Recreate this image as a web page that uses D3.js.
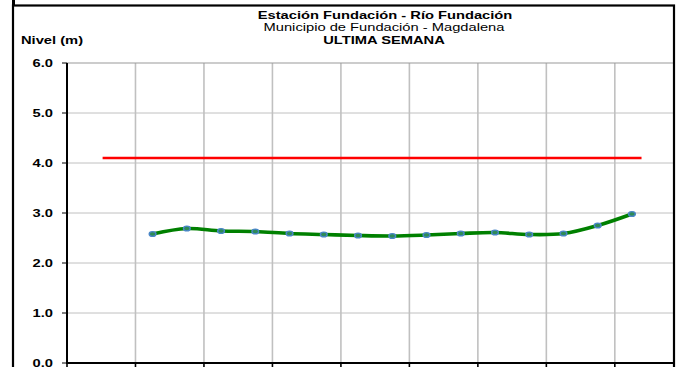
<!DOCTYPE html>
<html><head><meta charset="utf-8">
<script src="https://cdn.jsdelivr.net/npm/d3@7"></script>
<style>body{margin:0;background:#fff}svg{display:block}text{font-family:"Liberation Sans",Arial,sans-serif;fill:#000}</style>
</head><body>
<script>
// ---- data ----
const titleLines = ["Estación Fundación - Río Fundación", "Municipio de Fundación - Magdalena", "ULTIMA SEMANA"];
const yLabel = "Nivel (m)";
const yTicks = [0, 1, 2, 3, 4, 5, 6];
const levels = [2.58, 2.69, 2.64, 2.63, 2.59, 2.57, 2.55, 2.54, 2.56, 2.59, 2.61, 2.57, 2.59, 2.75, 2.98];
const firstSlot = 2.5;              // category slot of first reading
const alertLevel = 4.1;
const alertSpan = [1.04, 16.78];    // extent of the alert line, in category slots
const xGrid = [0, 2, 4, 6, 8, 10, 12, 14, 16, 18];

const W = 679, H = 367, SX = 1.4, FS = 10.5;
const svg = d3.select("body").append("svg").attr("width", W).attr("height", H);

const x = d3.scaleLinear().domain([0, 18]).range([67, 683.3]);
const y = d3.scaleLinear().domain([0, 6]).range([363, 63]);

function txt(px, py, s, anchor, weight) {
  svg.append("g").attr("transform", `translate(${px},${py}) scale(${SX},1)`)
    .append("text").attr("text-anchor", anchor).attr("font-weight", weight)
    .attr("font-size", FS).text(s);
}

svg.append("defs").append("clipPath").attr("id", "c")
  .append("rect").attr("x", 0).attr("y", 0).attr("width", 673).attr("height", H);
const g = svg.append("g").attr("clip-path", "url(#c)");

// grid
g.selectAll(".hg").data(yTicks.filter(d => d > 0 && d < 6)).enter().append("line")
  .attr("x1", x(0)).attr("x2", x(18)).attr("y1", d => y(d)).attr("y2", d => y(d))
  .attr("stroke", "#c0c0c0").attr("stroke-width", 1);
g.selectAll(".vg").data(xGrid.filter(d => d > 0)).enter().append("line")
  .attr("x1", d => x(d)).attr("x2", d => x(d)).attr("y1", y(6)).attr("y2", y(0))
  .attr("stroke", "#c0c0c0").attr("stroke-width", 1.6);
g.append("line").attr("x1", x(0)).attr("x2", x(18)).attr("y1", y(6)).attr("y2", y(6))
  .attr("stroke", "#999").attr("stroke-width", 1.2);

// bottom axis with ticks
g.append("line").attr("x1", x(0)).attr("x2", x(18)).attr("y1", y(0)).attr("y2", y(0))
  .attr("stroke", "#000").attr("stroke-width", 2);
g.selectAll(".xt").data(xGrid).enter().append("line")
  .attr("x1", d => x(d)).attr("x2", d => x(d)).attr("y1", y(0)).attr("y2", y(0) + 6)
  .attr("stroke", "#000").attr("stroke-width", 1.6);

// left axis
svg.append("line").attr("x1", x(0)).attr("x2", x(0)).attr("y1", y(6)).attr("y2", y(0) + 1)
  .attr("stroke", "#000").attr("stroke-width", 2);
svg.selectAll(".yt").data(yTicks).enter().append("line")
  .attr("x1", x(0) - 5).attr("x2", x(0)).attr("y1", d => y(d)).attr("y2", d => y(d))
  .attr("stroke", "#000").attr("stroke-width", 1);
yTicks.forEach(d => txt(53, y(d) + 3.7, d.toFixed(1), "end", "bold"));

// alert line
g.append("line").attr("x1", x(alertSpan[0])).attr("x2", x(alertSpan[1]))
  .attr("y1", y(alertLevel)).attr("y2", y(alertLevel))
  .attr("stroke", "#ff0000").attr("stroke-width", 2.6);

// series
const pts = levels.map((v, i) => [x(firstSlot + i), y(v)]);
g.append("path").attr("d", d3.line().curve(d3.curveCatmullRom.alpha(0))(pts))
  .attr("fill", "none").attr("stroke", "#008000").attr("stroke-width", 3.6);
g.selectAll(".pt").data(pts).enter().append("ellipse")
  .attr("cx", d => d[0]).attr("cy", d => d[1]).attr("rx", 3.4).attr("ry", 2.4)
  .attr("fill", "#2e8b57").attr("stroke", "#4a86c8").attr("stroke-width", 1.4);

// frame
svg.append("rect").attr("x", 13).attr("y", 5.5).attr("width", 661).attr("height", H)
  .attr("fill", "none").attr("stroke", "#000").attr("stroke-width", 2.2);
svg.append("rect").attr("x", 12).attr("y", 0).attr("width", 3).attr("height", 6).attr("fill", "#000");

// titles
txt(385, 18.5, titleLines[0], "middle", "bold");
txt(384, 31, titleLines[1], "middle", "normal");
txt(384, 43.5, titleLines[2], "middle", "bold");
txt(21, 44, yLabel, "start", "bold");
</script>
</body></html>
